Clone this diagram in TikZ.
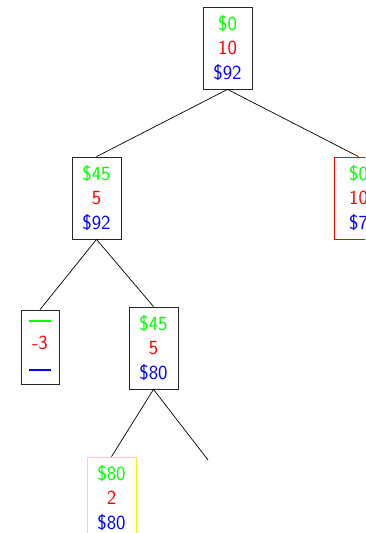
\documentclass[tikz,border=0pt]{standalone}
\begin{document}
\begin{tikzpicture}[x=1pt,y=-1pt,
  box/.style={draw=black!85,line width=0.8pt,minimum width=49pt,minimum height=82pt,inner sep=0pt,align=center,font=\sffamily\fontsize{20}{24.5}\selectfont},
  leafbox/.style={box,minimum width=38pt,minimum height=74pt},
  edge/.style={line width=0.7pt}]
\useasboundingbox (0,0) rectangle (365,533);
\clip (0,0) rectangle (365,533);
\newcommand{\gv}[1]{\textcolor{green}{#1}}
\newcommand{\rv}[1]{\textcolor{red}{#1}}
\newcommand{\bv}[1]{\textcolor{blue}{#1}}
\node[box] (root) at (227.5,48) {\gv{\$0}\\\rv{10}\\\bv{\$92}};
\node[box] (a) at (96.5,198) {\gv{\$45}\\\rv{5}\\\bv{\$92}};
\node[box,draw=red] (b) at (358.5,198) {\gv{\$0}\\\rv{10}\\\bv{\$7}};
\node[leafbox] (c) at (40,347) {\textcolor{green}{\rule[0.35ex]{22pt}{2pt}}\\\rv{-3}\\\textcolor{blue}{\rule[0.35ex]{22pt}{2pt}}};
\node[box] (d) at (153.5,348) {\gv{\$45}\\\rv{5}\\\bv{\$80}};
\node[box,draw=yellow] (e) at (111.5,498) {\gv{\$80}\\\rv{2}\\\bv{\$80}};
\coordinate (f) at (208,460);
\draw[edge] (root.south) -- (a.north);
\draw[edge] (root.south) -- (b.north);
\draw[edge] (a.south) -- (c.north);
\draw[edge] (a.south) -- (d.north);
\draw[edge] (d.south) -- (e.north);
\draw[edge] (d.south) -- (f);
\end{tikzpicture}
\end{document}
